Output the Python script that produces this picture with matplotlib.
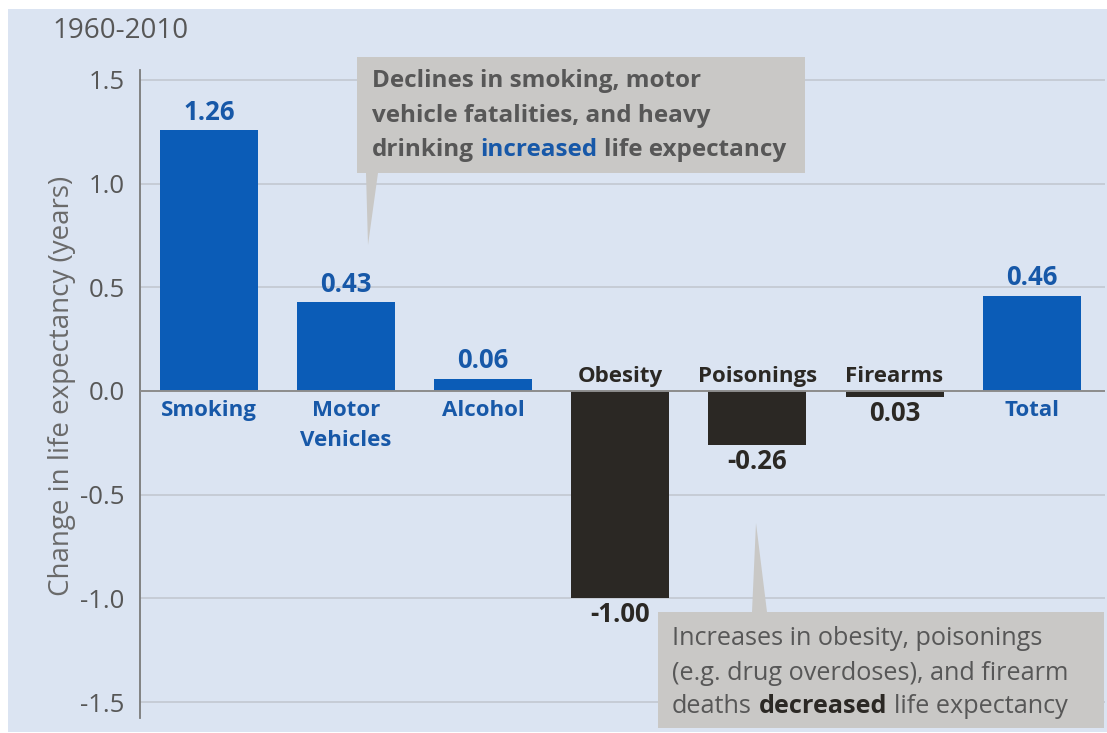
import matplotlib
matplotlib.use("Agg")
import matplotlib.pyplot as plt
from matplotlib.patches import Rectangle, Polygon

plt.rcParams['font.family'] = ['Open Sans', 'DejaVu Sans']

# ---- data -------------------------------------------------------------
categories = ["Smoking", "Motor\nVehicles", "Alcohol", "Obesity",
              "Poisonings", "Firearms", "Total"]
values = [1.26, 0.43, 0.06, -1.00, -0.26, -0.03, 0.46]
value_labels = ["1.26", "0.43", "0.06", "-1.00", "-0.26", "0.03", "0.46"]
yticks = [-1.5, -1.0, -0.5, 0.0, 0.5, 1.0, 1.5]
period = "1960-2010"
ylabel = "Change in life expectancy (years)"

# ---- style ------------------------------------------------------------
BG = "#dbe4f2"
BLUE = "#0b5cb7"
BLUE_TXT = "#1758a8"
DARK = "#2b2824"
GRID = "#c6ccd6"
TXT = "#575757"
CALLOUT = "#c9c8c6"

W, H = 1107, 733
fig = plt.figure(figsize=(W / 100, H / 100), dpi=100)
fig.patch.set_facecolor("white")

# pixel-space overlay used for the panel background and the callouts
bg = fig.add_axes([0, 0, 1, 1], zorder=0)
bg.set_xlim(0, W)
bg.set_ylim(H, 0)
bg.axis("off")
bg.add_patch(Rectangle((8, 9), W - 8, 723, facecolor=BG, edgecolor="none"))

ax = fig.add_axes([140 / W, (H - 718) / H, (1105 - 140) / W, (718 - 70) / H],
                  zorder=1)
ax.set_facecolor("none")
ax.set_xlim(-0.503, 6.535)
ax.set_ylim(-1.577, 1.548)

for s in ["top", "right", "bottom"]:
    ax.spines[s].set_visible(False)
ax.spines["left"].set_color("#7a7a7a")
ax.spines["left"].set_linewidth(1.3)

ax.set_yticks(yticks)
ax.set_yticklabels([f"{t:.1f}" for t in yticks])
ax.tick_params(axis="y", length=0, pad=11, labelsize=18.5, labelcolor=TXT)
ax.set_xticks([])
for t in yticks:
    if t != 0:
        ax.axhline(t, color=GRID, lw=1.4, zorder=0)
ax.axhline(0, color="#8c8c8c", lw=1.4, zorder=3)

fig.text(62 / W, 1 - 386 / H, ylabel, rotation=90, fontsize=20,
         color="#6a6a6a", ha="center", va="center")

xs = list(range(len(categories)))
colors = [BLUE if v > 0 else DARK for v in values]
ax.bar(xs, values, width=0.715, color=colors, zorder=2)

for x, v, lab, cat, c in zip(xs, values, value_labels, categories, colors):
    tc = BLUE_TXT if v > 0 else DARK
    if v > 0:
        ax.annotate(lab, (x, v), xytext=(0, 3), textcoords="offset points",
                    ha="center", va="bottom", fontsize=18.5, fontweight="bold",
                    color=tc)
        ax.annotate(cat, (x, 0), xytext=(0, -6.5), textcoords="offset points",
                    ha="center", va="top", fontsize=16, fontweight="bold",
                    color=tc, linespacing=1.55)
    else:
        ax.annotate(lab, (x, v), xytext=(0, -2), textcoords="offset points",
                    ha="center", va="top", fontsize=18.5, fontweight="bold",
                    color=tc)
        ax.annotate(cat, (x, 0), xytext=(0, 3), textcoords="offset points",
                    ha="center", va="bottom", fontsize=16, fontweight="bold",
                    color=tc)

fig.text(52 / W, 1 - 38 / H, period, fontsize=20, color=TXT, va="baseline")

# ---- callouts -----------------------------------------------------------
ov = fig.add_axes([0, 0, 1, 1], zorder=5)
ov.set_xlim(0, W)
ov.set_ylim(H, 0)
ov.axis("off")
ov.patch.set_alpha(0)

ov.add_patch(Polygon([(357, 57), (805, 57), (805, 173), (378, 173),
                      (368, 245), (366, 173), (357, 173)],
                     closed=True, facecolor=CALLOUT, edgecolor="none"))
ov.add_patch(Polygon([(658, 612), (752, 612), (756, 523), (767, 612),
                      (1104, 612), (1104, 728), (658, 728)],
                     closed=True, facecolor=CALLOUT, edgecolor="none"))


def rich_line(x, y, parts, fs):
    prev = None
    for text, color, weight in parts:
        if prev is None:
            prev = ov.text(x, y, text, color=color, fontweight=weight,
                           fontsize=fs, va="baseline", ha="left")
        else:
            prev = ov.annotate(text, xy=(1, 0), xycoords=prev,
                               xytext=(fs * 0.26, 0), textcoords="offset points",
                               color=color, fontweight=weight, fontsize=fs,
                               va="bottom", ha="left")


FS_TOP, FS_BOT = 17.5, 18.2
rich_line(372, 87, [("Declines in smoking, motor", TXT, "bold")], FS_TOP)
rich_line(372, 122, [("vehicle fatalities, and heavy", TXT, "bold")], FS_TOP)
rich_line(372, 156, [("drinking", TXT, "bold"), ("increased", BLUE_TXT, "bold"),
                     ("life expectancy", TXT, "bold")], FS_TOP)

rich_line(672, 645, [("Increases in obesity, poisonings", TXT, "normal")], FS_BOT)
rich_line(672, 680, [("(e.g. drug overdoses), and firearm", TXT, "normal")], FS_BOT)
rich_line(672, 713, [("deaths", TXT, "normal"), ("decreased", DARK, "bold"),
                     ("life expectancy", TXT, "normal")], FS_BOT)

fig.savefig("out.png", dpi=100)
